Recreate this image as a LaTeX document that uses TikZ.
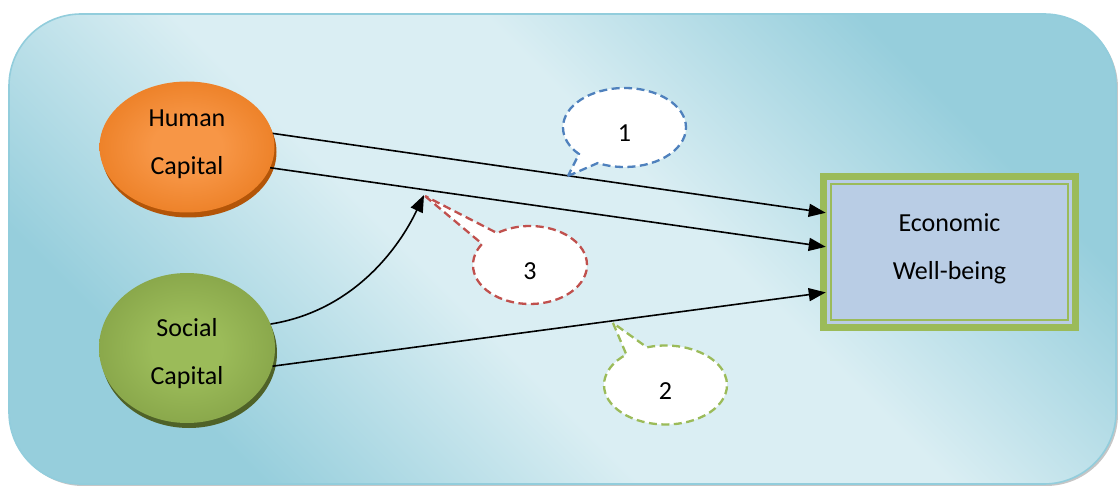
\documentclass[tikz,border=0pt]{standalone}
\usepackage{fontspec}
\setmainfont{Carlito}
\usetikzlibrary{shapes.geometric,shapes.callouts,arrows.meta,calc,shadows}

\definecolor{bgdark}{HTML}{96CEDC}
\definecolor{bglight}{HTML}{DAEEF3}
\definecolor{bgedge}{HTML}{92CDDC}
\definecolor{orcenter}{HTML}{F79646}
\definecolor{oredge}{HTML}{E36C0A}
\definecolor{orshadow}{HTML}{B35508}
\definecolor{grcenter}{HTML}{9BBB59}
\definecolor{gredge}{HTML}{77933C}
\definecolor{grshadow}{HTML}{4F6228}
\definecolor{framegreen}{HTML}{9BBB59}
\definecolor{boxfill}{HTML}{B9CDE5}
\definecolor{cblue}{HTML}{4F81BD}
\definecolor{cred}{HTML}{C0504D}
\definecolor{cgreen}{HTML}{9BBB59}

\pgfdeclareradialshading{orangeball}{\pgfpoint{0bp}{0bp}}{color(0bp)=(orcenter); color(10bp)=(orcenter); color(42bp)=(oredge); color(50bp)=(oredge)}
\pgfdeclareradialshading{greenball}{\pgfpoint{0bp}{0bp}}{color(0bp)=(grcenter); color(10bp)=(grcenter); color(42bp)=(gredge); color(50bp)=(gredge)}
\pgfdeclareverticalshading{panelshade}{100bp}{color(0bp)=(bgdark); color(26bp)=(bgdark); color(43bp)=(bglight); color(57bp)=(bglight); color(74bp)=(bgdark); color(100bp)=(bgdark)}

\tikzset{
  txt/.style={font=\fontsize{26}{48}\selectfont, align=center},
  capital/.style={ellipse, txt, inner sep=0pt},
  conn/.style={line width=1.6pt, -{Triangle[length=17pt,width=13pt]}},
  bubble/.style={ellipse callout, fill=white, line width=2.3pt,
    dash pattern=on 8pt off 4.5pt, callout pointer arc=22,
    minimum width=123pt, minimum height=79pt,
    font=\fontsize{26}{30}\selectfont, text height=29pt, text depth=0pt},
}

\begin{document}
\begin{tikzpicture}[x=1pt,y=-1pt]
\useasboundingbox (0,0) rectangle (1118,486);

% panel behind everything
\fill[gray!45] (11,16) [rounded corners=72pt] rectangle (1118,486);
\path[draw=bgedge, line width=1.6pt, rounded corners=72pt,
      shading=panelshade, shading angle=-45] (9,14) rectangle (1116,484);

% the two kinds of capital
\node[capital, minimum width=175pt, minimum height=131pt, shade, shading=orangeball,
      drop shadow={shadow xshift=2pt, shadow yshift=-5pt, fill=orshadow, opacity=1},
      text depth=10pt] (hc) at (187,147) {Human\\Capital};
\node[capital, minimum width=176pt, minimum height=150pt, shade, shading=greenball,
      drop shadow={shadow xshift=2pt, shadow yshift=-5pt, fill=grshadow, opacity=1},
      text depth=0pt] (sc) at (187,348) {\rule{0pt}{24pt}Social\\Capital};

% outcome box with thick-thin frame
\node[rectangle, fill=framegreen, minimum width=259pt, minimum height=158pt, txt,
      inner sep=0pt, text depth=11pt,
      path picture={
        \fill[boxfill] ($(path picture bounding box.north west)+(7,7)$)
           rectangle ($(path picture bounding box.south east)+(-7,-7)$);
        \draw[framegreen, line width=2.3pt]
           ($(path picture bounding box.north west)+(11,11)$)
           rectangle ($(path picture bounding box.south east)+(-11,-11)$);
      }] (ew) at (949.5,252) {Economic\\Well-being};

% connectors
\coordinate (m3) at (424,195);
\draw[conn, shorten >=-6pt] (hc.9) -- ($(ew.north west)!0.247!(ew.south west)$);
\draw[conn, shorten >=-6pt] (hc.-14) -- ($(ew.north west)!0.462!(ew.south west)$);
\draw[conn, shorten >=-6pt] (sc.-12) -- ($(ew.north west)!0.76!(ew.south west)$);
\draw[conn] (sc.16) .. controls (352,311) and (398,250) .. (m3);

% path labels
\node[bubble, draw=cblue, callout absolute pointer={(568,176)}] (c1) at (624.5,127.5) {1};
\node[bubble, draw=cgreen, callout absolute pointer={(613,323)}] (c2) at (665.5,385) {2};
\node[bubble, draw=cred, minimum width=114pt, minimum height=78pt,
      callout absolute pointer={(425,196)}] (c3) at (530,265) {3};
\end{tikzpicture}
\end{document}
